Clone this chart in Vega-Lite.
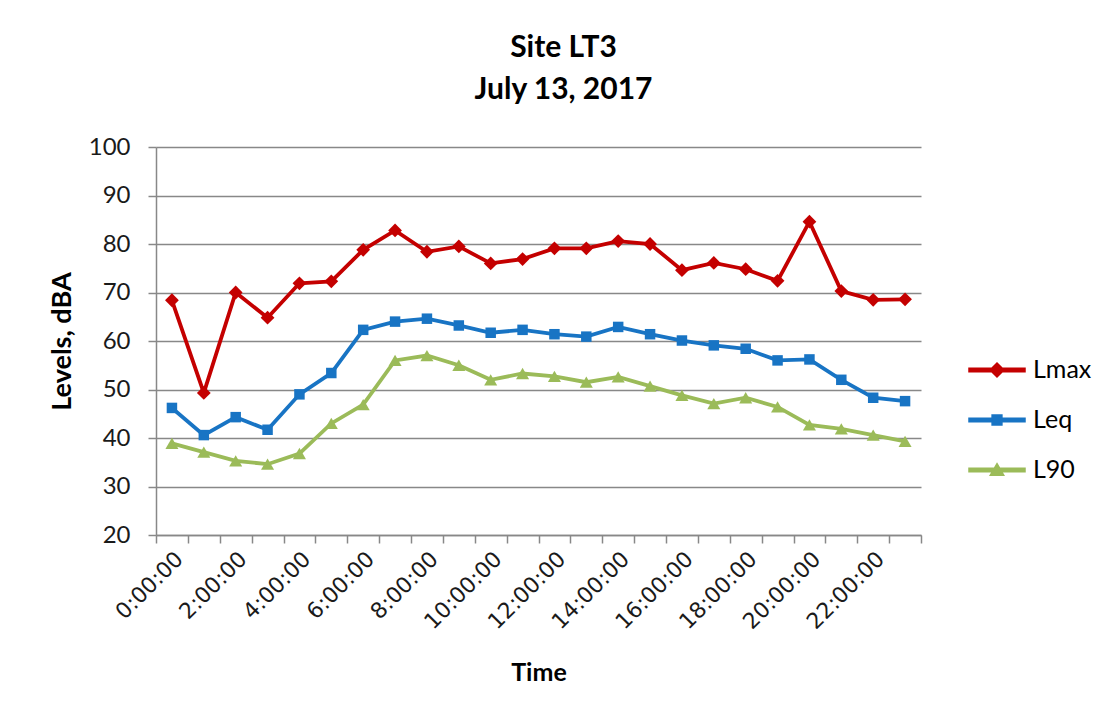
{
  "$schema": "https://vega.github.io/schema/vega-lite/v6.json",
  "autosize": {"type": "none"},
  "width": 765,
  "height": 388,
  "padding": {"left": 156, "top": 147, "right": 187, "bottom": 188},
  "background": "white",
  "config": {
    "view": {"stroke": null},
    "font": "Lato",
    "title": {"font": "Lato", "fontSize": 30, "fontWeight": "bold", "color": "#000000", "lineHeight": 42, "anchor": "middle", "dx": 25, "offset": 30},
    "axis": {"labelFont": "Lato", "titleFont": "Lato", "labelColor": "#1a1a1a", "titleColor": "#000000", "domainColor": "#888888", "tickColor": "#888888", "gridColor": "#888888", "domainWidth": 1.5, "tickWidth": 1.5, "gridWidth": 1.5}
  },
  "title": {"text": ["Site LT3", "July 13, 2017"]},
  "data": {
    "values": [
      {"t": "0:00:00", "s": "Lmax", "v": 68.4}, {"t": "0:00:00", "s": "Leq", "v": 46.2}, {"t": "0:00:00", "s": "L90", "v": 38.9},
      {"t": "1:00:00", "s": "Lmax", "v": 49.3}, {"t": "1:00:00", "s": "Leq", "v": 40.6}, {"t": "1:00:00", "s": "L90", "v": 37.1},
      {"t": "2:00:00", "s": "Lmax", "v": 70.0}, {"t": "2:00:00", "s": "Leq", "v": 44.3}, {"t": "2:00:00", "s": "L90", "v": 35.3},
      {"t": "3:00:00", "s": "Lmax", "v": 64.8}, {"t": "3:00:00", "s": "Leq", "v": 41.7}, {"t": "3:00:00", "s": "L90", "v": 34.6},
      {"t": "4:00:00", "s": "Lmax", "v": 71.9}, {"t": "4:00:00", "s": "Leq", "v": 49.0}, {"t": "4:00:00", "s": "L90", "v": 36.8},
      {"t": "5:00:00", "s": "Lmax", "v": 72.3}, {"t": "5:00:00", "s": "Leq", "v": 53.4}, {"t": "5:00:00", "s": "L90", "v": 43.0},
      {"t": "6:00:00", "s": "Lmax", "v": 78.8}, {"t": "6:00:00", "s": "Leq", "v": 62.3}, {"t": "6:00:00", "s": "L90", "v": 46.9},
      {"t": "7:00:00", "s": "Lmax", "v": 82.8}, {"t": "7:00:00", "s": "Leq", "v": 64.0}, {"t": "7:00:00", "s": "L90", "v": 56.0},
      {"t": "8:00:00", "s": "Lmax", "v": 78.4}, {"t": "8:00:00", "s": "Leq", "v": 64.6}, {"t": "8:00:00", "s": "L90", "v": 57.0},
      {"t": "9:00:00", "s": "Lmax", "v": 79.5}, {"t": "9:00:00", "s": "Leq", "v": 63.2}, {"t": "9:00:00", "s": "L90", "v": 55.0},
      {"t": "10:00:00", "s": "Lmax", "v": 76.0}, {"t": "10:00:00", "s": "Leq", "v": 61.7}, {"t": "10:00:00", "s": "L90", "v": 52.0},
      {"t": "11:00:00", "s": "Lmax", "v": 76.9}, {"t": "11:00:00", "s": "Leq", "v": 62.3}, {"t": "11:00:00", "s": "L90", "v": 53.3},
      {"t": "12:00:00", "s": "Lmax", "v": 79.1}, {"t": "12:00:00", "s": "Leq", "v": 61.4}, {"t": "12:00:00", "s": "L90", "v": 52.7},
      {"t": "13:00:00", "s": "Lmax", "v": 79.1}, {"t": "13:00:00", "s": "Leq", "v": 60.9}, {"t": "13:00:00", "s": "L90", "v": 51.5},
      {"t": "14:00:00", "s": "Lmax", "v": 80.6}, {"t": "14:00:00", "s": "Leq", "v": 62.9}, {"t": "14:00:00", "s": "L90", "v": 52.6},
      {"t": "15:00:00", "s": "Lmax", "v": 80.0}, {"t": "15:00:00", "s": "Leq", "v": 61.4}, {"t": "15:00:00", "s": "L90", "v": 50.7},
      {"t": "16:00:00", "s": "Lmax", "v": 74.6}, {"t": "16:00:00", "s": "Leq", "v": 60.1}, {"t": "16:00:00", "s": "L90", "v": 48.8},
      {"t": "17:00:00", "s": "Lmax", "v": 76.1}, {"t": "17:00:00", "s": "Leq", "v": 59.1}, {"t": "17:00:00", "s": "L90", "v": 47.1},
      {"t": "18:00:00", "s": "Lmax", "v": 74.8}, {"t": "18:00:00", "s": "Leq", "v": 58.4}, {"t": "18:00:00", "s": "L90", "v": 48.3},
      {"t": "19:00:00", "s": "Lmax", "v": 72.4}, {"t": "19:00:00", "s": "Leq", "v": 56.0}, {"t": "19:00:00", "s": "L90", "v": 46.4},
      {"t": "20:00:00", "s": "Lmax", "v": 84.6}, {"t": "20:00:00", "s": "Leq", "v": 56.2}, {"t": "20:00:00", "s": "L90", "v": 42.7},
      {"t": "21:00:00", "s": "Lmax", "v": 70.3}, {"t": "21:00:00", "s": "Leq", "v": 52.0}, {"t": "21:00:00", "s": "L90", "v": 41.9},
      {"t": "22:00:00", "s": "Lmax", "v": 68.5}, {"t": "22:00:00", "s": "Leq", "v": 48.3}, {"t": "22:00:00", "s": "L90", "v": 40.6},
      {"t": "23:00:00", "s": "Lmax", "v": 68.6}, {"t": "23:00:00", "s": "Leq", "v": 47.6}, {"t": "23:00:00", "s": "L90", "v": 39.3}
    ]
  },
  "encoding": {
    "x": {
      "field": "t", "type": "nominal", "sort": null,
      "scale": {"type": "band", "paddingInner": 0, "paddingOuter": 0},
      "axis": {
        "title": "Time", "titleFontSize": 25, "titleFontWeight": "bold", "titlePadding": 28,
        "labelAngle": -45, "labelFont": "DejaVu Sans", "labelFontSize": 22, "labelPadding": 5,
        "tickBand": "extent", "tickSize": 8, "grid": false,
        "labelExpr": "parseInt(split(datum.value, ':')[0]) % 2 == 0 ? datum.value : ''"
      }
    },
    "y": {
      "field": "v", "type": "quantitative",
      "scale": {"domain": [20, 100], "nice": false, "zero": false},
      "axis": {
        "title": "Levels, dBA", "titleFontSize": 27, "titleFontWeight": "bold", "titlePadding": 12,
        "values": [20, 30, 40, 50, 60, 70, 80, 90, 100], "labelFontSize": 24, "labelPadding": 18,
        "tickSize": 8, "grid": true
      }
    },
    "color": {
      "field": "s", "type": "nominal",
      "scale": {"domain": ["Lmax", "Leq", "L90"], "range": ["#C40000", "#1874C4", "#9BBB59"]}
    }
  },
  "layer": [
    {
      "mark": {"type": "line", "strokeWidth": 3.8},
      "encoding": {
        "color": {
          "field": "s", "type": "nominal",
          "legend": {
            "title": null, "orient": "none", "legendX": 840, "legendY": 208, "padding": 0,
            "symbolSize": 784, "symbolOffset": 0, "labelOffset": 7, "rowPadding": 22,
            "labelFont": "Lato", "labelFontSize": 25, "labelColor": "#000000",
            "encode": {
              "symbols": {
                "enter": {
                  "shape": {"signal": "datum.value === 'Lmax' ? 'M-3,-0.13H1V0.13H-3Z M-1,-0.5L-0.5,0L-1,0.5L-1.5,0Z' : datum.value === 'Leq' ? 'M-3,-0.13H1V0.13H-3Z M-1.35,-0.35H-0.65V0.35H-1.35Z' : 'M-3,-0.13H1V0.13H-3Z M-1,-0.45L-0.52,0.38H-1.48Z'"}
                },
                "update": {
                  "shape": {"signal": "datum.value === 'Lmax' ? 'M-3,-0.13H1V0.13H-3Z M-1,-0.5L-0.5,0L-1,0.5L-1.5,0Z' : datum.value === 'Leq' ? 'M-3,-0.13H1V0.13H-3Z M-1.35,-0.35H-0.65V0.35H-1.35Z' : 'M-3,-0.13H1V0.13H-3Z M-1,-0.45L-0.52,0.38H-1.48Z'"},
                  "fill": {"signal": "datum.value === 'Lmax' ? '#C40000' : datum.value === 'Leq' ? '#1874C4' : '#9BBB59'"},
                  "stroke": {"value": "transparent"},
                  "opacity": {"value": 1},
                  "fillOpacity": {"value": 1}
                }
              }
            }
          }
        }
      }
    },
    {
      "transform": [{"filter": "datum.s === 'Lmax'"}],
      "mark": {"type": "point", "filled": true, "opacity": 1, "size": 190, "shape": "diamond"},
      "encoding": {"color": {"field": "s", "type": "nominal", "legend": null}}
    },
    {
      "transform": [{"filter": "datum.s === 'Leq'"}],
      "mark": {"type": "point", "filled": true, "opacity": 1, "size": 110, "shape": "square"},
      "encoding": {"color": {"field": "s", "type": "nominal", "legend": null}}
    },
    {
      "transform": [{"filter": "datum.s === 'L90'"}],
      "mark": {"type": "point", "filled": true, "opacity": 1, "size": 170, "shape": "triangle-up"},
      "encoding": {"color": {"field": "s", "type": "nominal", "legend": null}}
    }
  ]
}
